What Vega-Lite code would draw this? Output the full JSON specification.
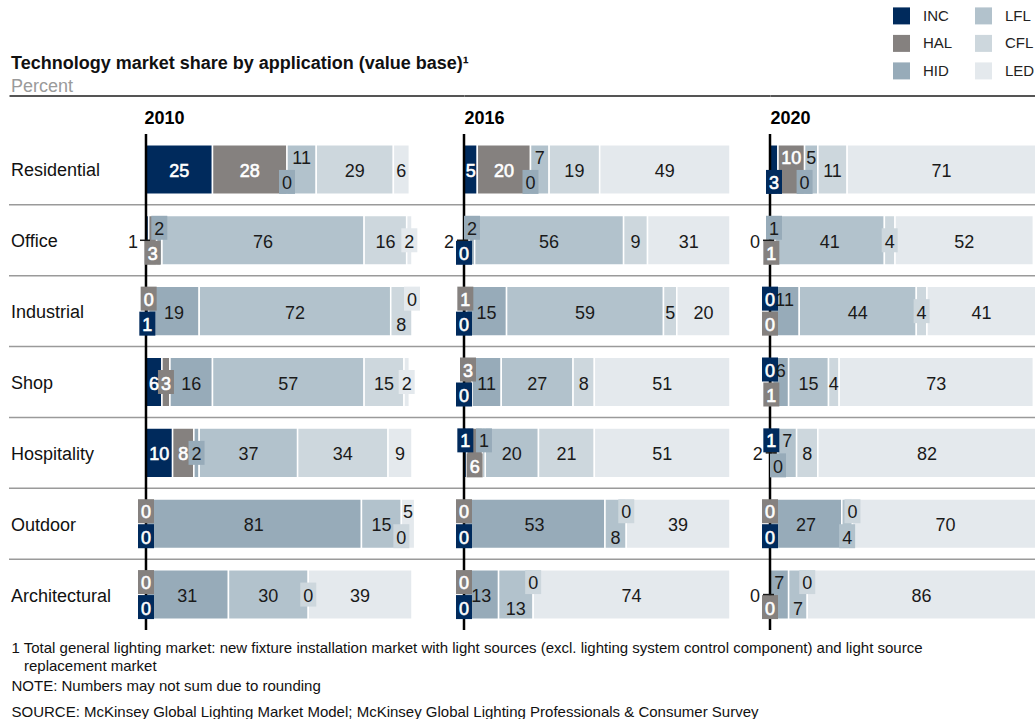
{
  "$schema": "https://vega.github.io/schema/vega-lite/v6.json",
  "padding": {"left": 8, "top": 7, "right": 0, "bottom": 0},
  "config": {"font": "Liberation Sans", "view": {"stroke": null}},
  "bounds": "flush",
  "spacing": 0,
  "params": [
    {"name": "OUT", "value": ["2010|Office|INC", "2016|Office|HAL", "2020|Office|INC", "2020|Hospitality|HAL", "2020|Architectural|INC"]},
    {"name": "UP", "value": ["2010|Residential|LFL", "2010|Office|HID", "2010|Industrial|HAL", "2010|Industrial|LED", "2010|Outdoor|HAL", "2010|Outdoor|LED", "2010|Architectural|HAL",
      "2016|Residential|LFL", "2016|Office|HID", "2016|Industrial|HAL", "2016|Shop|HAL", "2016|Hospitality|INC", "2016|Hospitality|HID", "2016|Outdoor|HAL", "2016|Outdoor|CFL", "2016|Architectural|HAL", "2016|Architectural|CFL",
      "2020|Residential|HAL", "2020|Residential|LFL", "2020|Office|HID", "2020|Industrial|INC", "2020|Industrial|HID", "2020|Shop|INC", "2020|Shop|HID", "2020|Hospitality|INC", "2020|Hospitality|LFL", "2020|Outdoor|HAL", "2020|Outdoor|CFL", "2020|Architectural|HID", "2020|Architectural|CFL"]},
    {"name": "DOWN", "value": ["2010|Residential|HID", "2010|Office|HAL", "2010|Industrial|INC", "2010|Industrial|CFL", "2010|Outdoor|INC", "2010|Outdoor|CFL", "2010|Architectural|INC",
      "2016|Residential|HID", "2016|Office|INC", "2016|Industrial|INC", "2016|Shop|INC", "2016|Hospitality|HAL", "2016|Outdoor|INC", "2016|Outdoor|LFL", "2016|Architectural|INC", "2016|Architectural|LFL",
      "2020|Residential|INC", "2020|Residential|HID", "2020|Office|HAL", "2020|Industrial|HAL", "2020|Shop|HAL", "2020|Hospitality|HID", "2020|Outdoor|INC", "2020|Outdoor|LFL", "2020|Architectural|HAL", "2020|Architectural|LFL"]},
    {"name": "BOX", "value": ["2010|Residential|HID", "2010|Office|HAL", "2010|Office|HID", "2010|Office|LED", "2010|Industrial|INC", "2010|Industrial|HAL", "2010|Industrial|LED", "2010|Shop|HAL", "2010|Shop|LED", "2010|Hospitality|HID", "2010|Outdoor|INC", "2010|Outdoor|HAL", "2010|Outdoor|CFL", "2010|Architectural|INC", "2010|Architectural|HAL", "2010|Architectural|CFL",
      "2016|Residential|HID", "2016|Office|INC", "2016|Office|HID", "2016|Industrial|HAL", "2016|Industrial|INC", "2016|Shop|HAL", "2016|Shop|INC", "2016|Hospitality|INC", "2016|Hospitality|HAL", "2016|Hospitality|HID", "2016|Outdoor|HAL", "2016|Outdoor|INC", "2016|Outdoor|CFL", "2016|Architectural|HAL", "2016|Architectural|INC", "2016|Architectural|CFL",
      "2020|Residential|INC", "2020|Residential|HID", "2020|Office|HAL", "2020|Office|HID", "2020|Office|CFL", "2020|Industrial|INC", "2020|Industrial|HAL", "2020|Industrial|CFL", "2020|Shop|INC", "2020|Shop|HAL", "2020|Hospitality|INC", "2020|Hospitality|HID", "2020|Outdoor|HAL", "2020|Outdoor|INC", "2020|Outdoor|LFL", "2020|Outdoor|CFL", "2020|Architectural|HAL", "2020|Architectural|CFL"]}
  ],
  "title": {"text": "Technology market share by application (value base)¹", "subtitle": "Percent", "anchor": "start", "frame": "group", "dx": 2, "offset": -89, "fontSize": 18, "fontWeight": "bold", "color": "#111111", "subtitleFontSize": 18, "subtitleColor": "#9a9a9a", "subtitlePadding": 5},
  "data": {"values": [
    {"year": "2010", "app": "Residential", "tech": "INC", "value": 25},
    {"year": "2010", "app": "Residential", "tech": "HAL", "value": 28},
    {"year": "2010", "app": "Residential", "tech": "HID", "value": 0},
    {"year": "2010", "app": "Residential", "tech": "LFL", "value": 11},
    {"year": "2010", "app": "Residential", "tech": "CFL", "value": 29},
    {"year": "2010", "app": "Residential", "tech": "LED", "value": 6},
    {"year": "2010", "app": "Office", "tech": "INC", "value": 1},
    {"year": "2010", "app": "Office", "tech": "HAL", "value": 3},
    {"year": "2010", "app": "Office", "tech": "HID", "value": 2},
    {"year": "2010", "app": "Office", "tech": "LFL", "value": 76},
    {"year": "2010", "app": "Office", "tech": "CFL", "value": 16},
    {"year": "2010", "app": "Office", "tech": "LED", "value": 2},
    {"year": "2010", "app": "Industrial", "tech": "INC", "value": 1},
    {"year": "2010", "app": "Industrial", "tech": "HAL", "value": 0},
    {"year": "2010", "app": "Industrial", "tech": "HID", "value": 19},
    {"year": "2010", "app": "Industrial", "tech": "LFL", "value": 72},
    {"year": "2010", "app": "Industrial", "tech": "CFL", "value": 8},
    {"year": "2010", "app": "Industrial", "tech": "LED", "value": 0},
    {"year": "2010", "app": "Shop", "tech": "INC", "value": 6},
    {"year": "2010", "app": "Shop", "tech": "HAL", "value": 3},
    {"year": "2010", "app": "Shop", "tech": "HID", "value": 16},
    {"year": "2010", "app": "Shop", "tech": "LFL", "value": 57},
    {"year": "2010", "app": "Shop", "tech": "CFL", "value": 15},
    {"year": "2010", "app": "Shop", "tech": "LED", "value": 2},
    {"year": "2010", "app": "Hospitality", "tech": "INC", "value": 10},
    {"year": "2010", "app": "Hospitality", "tech": "HAL", "value": 8},
    {"year": "2010", "app": "Hospitality", "tech": "HID", "value": 2},
    {"year": "2010", "app": "Hospitality", "tech": "LFL", "value": 37},
    {"year": "2010", "app": "Hospitality", "tech": "CFL", "value": 34},
    {"year": "2010", "app": "Hospitality", "tech": "LED", "value": 9},
    {"year": "2010", "app": "Outdoor", "tech": "INC", "value": 0},
    {"year": "2010", "app": "Outdoor", "tech": "HAL", "value": 0},
    {"year": "2010", "app": "Outdoor", "tech": "HID", "value": 81},
    {"year": "2010", "app": "Outdoor", "tech": "LFL", "value": 15},
    {"year": "2010", "app": "Outdoor", "tech": "CFL", "value": 0},
    {"year": "2010", "app": "Outdoor", "tech": "LED", "value": 5},
    {"year": "2010", "app": "Architectural", "tech": "INC", "value": 0},
    {"year": "2010", "app": "Architectural", "tech": "HAL", "value": 0},
    {"year": "2010", "app": "Architectural", "tech": "HID", "value": 31},
    {"year": "2010", "app": "Architectural", "tech": "LFL", "value": 30},
    {"year": "2010", "app": "Architectural", "tech": "CFL", "value": 0},
    {"year": "2010", "app": "Architectural", "tech": "LED", "value": 39},
    {"year": "2016", "app": "Residential", "tech": "INC", "value": 5},
    {"year": "2016", "app": "Residential", "tech": "HAL", "value": 20},
    {"year": "2016", "app": "Residential", "tech": "HID", "value": 0},
    {"year": "2016", "app": "Residential", "tech": "LFL", "value": 7},
    {"year": "2016", "app": "Residential", "tech": "CFL", "value": 19},
    {"year": "2016", "app": "Residential", "tech": "LED", "value": 49},
    {"year": "2016", "app": "Office", "tech": "INC", "value": 0},
    {"year": "2016", "app": "Office", "tech": "HAL", "value": 2},
    {"year": "2016", "app": "Office", "tech": "HID", "value": 2},
    {"year": "2016", "app": "Office", "tech": "LFL", "value": 56},
    {"year": "2016", "app": "Office", "tech": "CFL", "value": 9},
    {"year": "2016", "app": "Office", "tech": "LED", "value": 31},
    {"year": "2016", "app": "Industrial", "tech": "INC", "value": 0},
    {"year": "2016", "app": "Industrial", "tech": "HAL", "value": 1},
    {"year": "2016", "app": "Industrial", "tech": "HID", "value": 15},
    {"year": "2016", "app": "Industrial", "tech": "LFL", "value": 59},
    {"year": "2016", "app": "Industrial", "tech": "CFL", "value": 5},
    {"year": "2016", "app": "Industrial", "tech": "LED", "value": 20},
    {"year": "2016", "app": "Shop", "tech": "INC", "value": 0},
    {"year": "2016", "app": "Shop", "tech": "HAL", "value": 3},
    {"year": "2016", "app": "Shop", "tech": "HID", "value": 11},
    {"year": "2016", "app": "Shop", "tech": "LFL", "value": 27},
    {"year": "2016", "app": "Shop", "tech": "CFL", "value": 8},
    {"year": "2016", "app": "Shop", "tech": "LED", "value": 51},
    {"year": "2016", "app": "Hospitality", "tech": "INC", "value": 1},
    {"year": "2016", "app": "Hospitality", "tech": "HAL", "value": 6},
    {"year": "2016", "app": "Hospitality", "tech": "HID", "value": 1},
    {"year": "2016", "app": "Hospitality", "tech": "LFL", "value": 20},
    {"year": "2016", "app": "Hospitality", "tech": "CFL", "value": 21},
    {"year": "2016", "app": "Hospitality", "tech": "LED", "value": 51},
    {"year": "2016", "app": "Outdoor", "tech": "INC", "value": 0},
    {"year": "2016", "app": "Outdoor", "tech": "HAL", "value": 0},
    {"year": "2016", "app": "Outdoor", "tech": "HID", "value": 53},
    {"year": "2016", "app": "Outdoor", "tech": "LFL", "value": 8},
    {"year": "2016", "app": "Outdoor", "tech": "CFL", "value": 0},
    {"year": "2016", "app": "Outdoor", "tech": "LED", "value": 39},
    {"year": "2016", "app": "Architectural", "tech": "INC", "value": 0},
    {"year": "2016", "app": "Architectural", "tech": "HAL", "value": 0},
    {"year": "2016", "app": "Architectural", "tech": "HID", "value": 13},
    {"year": "2016", "app": "Architectural", "tech": "LFL", "value": 13},
    {"year": "2016", "app": "Architectural", "tech": "CFL", "value": 0},
    {"year": "2016", "app": "Architectural", "tech": "LED", "value": 74},
    {"year": "2020", "app": "Residential", "tech": "INC", "value": 3},
    {"year": "2020", "app": "Residential", "tech": "HAL", "value": 10},
    {"year": "2020", "app": "Residential", "tech": "HID", "value": 0},
    {"year": "2020", "app": "Residential", "tech": "LFL", "value": 5},
    {"year": "2020", "app": "Residential", "tech": "CFL", "value": 11},
    {"year": "2020", "app": "Residential", "tech": "LED", "value": 71},
    {"year": "2020", "app": "Office", "tech": "INC", "value": 0},
    {"year": "2020", "app": "Office", "tech": "HAL", "value": 1},
    {"year": "2020", "app": "Office", "tech": "HID", "value": 1},
    {"year": "2020", "app": "Office", "tech": "LFL", "value": 41},
    {"year": "2020", "app": "Office", "tech": "CFL", "value": 4},
    {"year": "2020", "app": "Office", "tech": "LED", "value": 52},
    {"year": "2020", "app": "Industrial", "tech": "INC", "value": 0},
    {"year": "2020", "app": "Industrial", "tech": "HAL", "value": 0},
    {"year": "2020", "app": "Industrial", "tech": "HID", "value": 11},
    {"year": "2020", "app": "Industrial", "tech": "LFL", "value": 44},
    {"year": "2020", "app": "Industrial", "tech": "CFL", "value": 4},
    {"year": "2020", "app": "Industrial", "tech": "LED", "value": 41},
    {"year": "2020", "app": "Shop", "tech": "INC", "value": 0},
    {"year": "2020", "app": "Shop", "tech": "HAL", "value": 1},
    {"year": "2020", "app": "Shop", "tech": "HID", "value": 6},
    {"year": "2020", "app": "Shop", "tech": "LFL", "value": 15},
    {"year": "2020", "app": "Shop", "tech": "CFL", "value": 4},
    {"year": "2020", "app": "Shop", "tech": "LED", "value": 73},
    {"year": "2020", "app": "Hospitality", "tech": "INC", "value": 1},
    {"year": "2020", "app": "Hospitality", "tech": "HAL", "value": 2},
    {"year": "2020", "app": "Hospitality", "tech": "HID", "value": 0},
    {"year": "2020", "app": "Hospitality", "tech": "LFL", "value": 7},
    {"year": "2020", "app": "Hospitality", "tech": "CFL", "value": 8},
    {"year": "2020", "app": "Hospitality", "tech": "LED", "value": 82},
    {"year": "2020", "app": "Outdoor", "tech": "INC", "value": 0},
    {"year": "2020", "app": "Outdoor", "tech": "HAL", "value": 0},
    {"year": "2020", "app": "Outdoor", "tech": "HID", "value": 27},
    {"year": "2020", "app": "Outdoor", "tech": "LFL", "value": 4},
    {"year": "2020", "app": "Outdoor", "tech": "CFL", "value": 0},
    {"year": "2020", "app": "Outdoor", "tech": "LED", "value": 70},
    {"year": "2020", "app": "Architectural", "tech": "INC", "value": 0},
    {"year": "2020", "app": "Architectural", "tech": "HAL", "value": 0},
    {"year": "2020", "app": "Architectural", "tech": "HID", "value": 7},
    {"year": "2020", "app": "Architectural", "tech": "LFL", "value": 7},
    {"year": "2020", "app": "Architectural", "tech": "CFL", "value": 0},
    {"year": "2020", "app": "Architectural", "tech": "LED", "value": 86}
  ]},
  "hconcat": [
    {
      "width": 455, "height": 496,
      "resolve": {"axis": {"x": "independent"}},
      "transform": [{"filter": "datum.year === '2010'"}, {"stack": "value", "groupby": ["app"], "as": ["x0", "x1"]}],
      "layer": [
        {"transform": [{"filter": "datum.tech === 'INC' && datum.app !== 'Residential'"}],
          "mark": {"type": "rule", "color": "#9a9a9a", "strokeWidth": 1.5},
          "encoding": {"y": {"field": "app", "type": "nominal", "bandPosition": 0, "scale": {"domain": ["Residential", "Office", "Industrial", "Shop", "Hospitality", "Outdoor", "Architectural"], "paddingInner": 0, "paddingOuter": 0}, "axis": null}}},
        {"transform": [{"filter": "datum.tech === 'INC'"}],
          "mark": {"type": "text", "align": "left", "baseline": "alphabetic", "dx": 2, "dy": 7, "fontSize": 18, "color": "#111111"},
          "encoding": {
            "y": {"field": "app", "type": "nominal", "scale": {"domain": ["Residential", "Office", "Industrial", "Shop", "Hospitality", "Outdoor", "Architectural"], "paddingInner": 0, "paddingOuter": 0}, "axis": null},
            "x": {"datum": -51.5, "scale": {"domain": [-51.5, 119.55], "nice": false, "zero": false}, "axis": null},
            "text": {"field": "app", "type": "nominal"}
          }},
        {"transform": [{"filter": "datum.value > 0"}],
          "mark": {"type": "bar", "height": {"band": 0.7}, "stroke": "#ffffff", "strokeWidth": 1.5, "clip": true},
          "encoding": {
            "y": {"field": "app", "type": "nominal", "scale": {"domain": ["Residential", "Office", "Industrial", "Shop", "Hospitality", "Outdoor", "Architectural"], "paddingInner": 0, "paddingOuter": 0}, "axis": null},
            "x": {"field": "x0", "type": "quantitative", "scale": {"domain": [-51.5, 119.55], "nice": false, "zero": false}, "axis": {"orient": "top", "offset": 38.6, "domain": true, "domainColor": "#555555", "domainWidth": 2, "ticks": false, "labels": false, "grid": false, "title": "2010", "titleX": 135, "titleY": 28, "titleAlign": "left", "titleBaseline": "alphabetic", "titleFontSize": 18, "titleFontWeight": "bold", "titleColor": "#000000"}},
            "x2": {"field": "x1"},
            "color": {"field": "tech", "type": "nominal", "scale": {"domain": ["INC", "HAL", "HID", "LFL", "CFL", "LED"], "range": ["#002a5c", "#85817f", "#97abb9", "#b2c2cc", "#cdd7dd", "#e4e9ed"]},
              "legend": {"orient": "none", "legendX": 884, "legendY": -126.6, "columns": 2, "direction": "vertical", "symbolType": "square", "symbolSize": 289, "symbolStrokeWidth": 0, "labelFontSize": 15, "labelColor": "#222222", "labelOffset": 13, "title": null, "rowPadding": 10.5, "columnPadding": 22, "padding": 0}}
          }},
        {"transform": [{"filter": "datum.app === 'Residential' && datum.tech === 'INC'"}],
          "mark": {"type": "rule", "color": "#000000", "strokeWidth": 2.5},
          "encoding": {"x": {"datum": 0, "scale": {"domain": [-51.5, 119.55], "nice": false, "zero": false}, "axis": {"orient": "bottom", "domain": false, "ticks": false, "labels": false, "grid": false, "title": ["1 Total general lighting market: new fixture installation market with light sources (excl. lighting system control component) and light source", "\u200b\u00a0\u00a0\u00a0replacement market"], "titleX": 2, "titleY": 22.4, "titleAlign": "left", "titleBaseline": "alphabetic", "titleFontSize": 15, "titleFontWeight": "normal", "titleColor": "#111111", "titleLineHeight": 18}}}},
        {"transform": [{"fold": ["x0", "x1"], "as": ["edge", "pos"]}, {"aggregate": [{"op": "mean", "field": "pos", "as": "mid"}, {"op": "min", "field": "pos", "as": "start"}], "groupby": ["year", "app", "tech", "value"]}],
          "encoding": {
            "y": {"field": "app", "type": "nominal", "scale": {"domain": ["Residential", "Office", "Industrial", "Shop", "Hospitality", "Outdoor", "Architectural"], "paddingInner": 0, "paddingOuter": 0}, "axis": null}
          },
          "layer": [
            {"transform": [{"filter": "indexof(BOX, datum.year+'|'+datum.app+'|'+datum.tech) >= 0 && indexof(UP, datum.year+'|'+datum.app+'|'+datum.tech) >= 0"}],
              "mark": {"type": "point", "shape": "M-0.667,-1H0.667V1H-0.667Z", "size": 576, "filled": true, "opacity": 1, "strokeWidth": 0, "yOffset": -12.5},
              "encoding": {"x": {"field": "mid", "type": "quantitative", "scale": {"domain": [-51.5, 119.55], "nice": false, "zero": false}, "axis": null}, "color": {"field": "tech", "type": "nominal", "legend": null}}},
            {"transform": [{"filter": "indexof(BOX, datum.year+'|'+datum.app+'|'+datum.tech) >= 0 && indexof(DOWN, datum.year+'|'+datum.app+'|'+datum.tech) >= 0"}],
              "mark": {"type": "point", "shape": "M-0.667,-1H0.667V1H-0.667Z", "size": 576, "filled": true, "opacity": 1, "strokeWidth": 0, "yOffset": 12.5},
              "encoding": {"x": {"field": "mid", "type": "quantitative", "scale": {"domain": [-51.5, 119.55], "nice": false, "zero": false}, "axis": null}, "color": {"field": "tech", "type": "nominal", "legend": null}}},
            {"transform": [{"filter": "indexof(BOX, datum.year+'|'+datum.app+'|'+datum.tech) >= 0 && indexof(UP, datum.year+'|'+datum.app+'|'+datum.tech) < 0 && indexof(DOWN, datum.year+'|'+datum.app+'|'+datum.tech) < 0"}],
              "mark": {"type": "point", "shape": "M-0.667,-1H0.667V1H-0.667Z", "size": 576, "filled": true, "opacity": 1, "strokeWidth": 0},
              "encoding": {"x": {"field": "mid", "type": "quantitative", "scale": {"domain": [-51.5, 119.55], "nice": false, "zero": false}, "axis": null}, "color": {"field": "tech", "type": "nominal", "legend": null}}},
            {"transform": [{"filter": "indexof(OUT, datum.year+'|'+datum.app+'|'+datum.tech) < 0 && indexof(UP, datum.year+'|'+datum.app+'|'+datum.tech) >= 0"}],
              "mark": {"type": "text", "fontSize": 18, "baseline": "alphabetic", "align": "center", "dy": -5.5, "strokeWidth": 0.6},
              "encoding": {"x": {"field": "mid", "type": "quantitative", "scale": {"domain": [-51.5, 119.55], "nice": false, "zero": false}, "axis": null}, "text": {"field": "value", "type": "quantitative", "format": "d"},
                "color": {"condition": {"test": "datum.tech === 'INC' || datum.tech === 'HAL'", "value": "#ffffff"}, "value": "#1a1a1a"},
                "stroke": {"condition": {"test": "datum.tech === 'INC' || datum.tech === 'HAL'", "value": "#ffffff"}, "value": "transparent"}}},
            {"transform": [{"filter": "indexof(OUT, datum.year+'|'+datum.app+'|'+datum.tech) < 0 && indexof(DOWN, datum.year+'|'+datum.app+'|'+datum.tech) >= 0"}],
              "mark": {"type": "text", "fontSize": 18, "baseline": "alphabetic", "align": "center", "dy": 20, "strokeWidth": 0.6},
              "encoding": {"x": {"field": "mid", "type": "quantitative", "scale": {"domain": [-51.5, 119.55], "nice": false, "zero": false}, "axis": null}, "text": {"field": "value", "type": "quantitative", "format": "d"},
                "color": {"condition": {"test": "datum.tech === 'INC' || datum.tech === 'HAL'", "value": "#ffffff"}, "value": "#1a1a1a"},
                "stroke": {"condition": {"test": "datum.tech === 'INC' || datum.tech === 'HAL'", "value": "#ffffff"}, "value": "transparent"}}},
            {"transform": [{"filter": "indexof(OUT, datum.year+'|'+datum.app+'|'+datum.tech) < 0 && indexof(UP, datum.year+'|'+datum.app+'|'+datum.tech) < 0 && indexof(DOWN, datum.year+'|'+datum.app+'|'+datum.tech) < 0"}],
              "mark": {"type": "text", "fontSize": 18, "baseline": "alphabetic", "align": "center", "dy": 7.5, "strokeWidth": 0.6},
              "encoding": {"x": {"field": "mid", "type": "quantitative", "scale": {"domain": [-51.5, 119.55], "nice": false, "zero": false}, "axis": null}, "text": {"field": "value", "type": "quantitative", "format": "d"},
                "color": {"condition": {"test": "datum.tech === 'INC' || datum.tech === 'HAL'", "value": "#ffffff"}, "value": "#1a1a1a"},
                "stroke": {"condition": {"test": "datum.tech === 'INC' || datum.tech === 'HAL'", "value": "#ffffff"}, "value": "transparent"}}},
            {"transform": [{"filter": "indexof(OUT, datum.year+'|'+datum.app+'|'+datum.tech) >= 0"}],
              "mark": {"type": "text", "fontSize": 18, "baseline": "alphabetic", "align": "right", "dx": -8, "dy": 7.5, "color": "#1a1a1a"},
              "encoding": {"x": {"field": "start", "type": "quantitative", "scale": {"domain": [-51.5, 119.55], "nice": false, "zero": false}, "axis": null}, "text": {"field": "value", "type": "quantitative", "format": "d"}}},
            {"transform": [{"filter": "indexof(OUT, datum.year+'|'+datum.app+'|'+datum.tech) >= 0"}],
              "mark": {"type": "rule", "color": "#1a1a1a", "strokeWidth": 1.5, "xOffset": -6, "x2Offset": 4},
              "encoding": {"x": {"field": "start", "type": "quantitative", "scale": {"domain": [-51.5, 119.55], "nice": false, "zero": false}, "axis": null}, "x2": {"field": "start"}}}
          ]}
      ]
    },
    {
      "width": 306, "height": 496,
      "resolve": {"axis": {"x": "independent"}},
      "transform": [{"filter": "datum.year === '2016'"}, {"stack": "value", "groupby": ["app"], "as": ["x0", "x1"]}],
      "layer": [
        {"transform": [{"filter": "datum.tech === 'INC' && datum.app !== 'Residential'"}],
          "mark": {"type": "rule", "color": "#9a9a9a", "strokeWidth": 1.5},
          "encoding": {"y": {"field": "app", "type": "nominal", "bandPosition": 0, "scale": {"domain": ["Residential", "Office", "Industrial", "Shop", "Hospitality", "Outdoor", "Architectural"], "paddingInner": 0, "paddingOuter": 0}, "axis": null}}},
        {"transform": [{"filter": "datum.value > 0"}],
          "mark": {"type": "bar", "height": {"band": 0.7}, "stroke": "#ffffff", "strokeWidth": 1.5, "clip": true},
          "encoding": {
            "y": {"field": "app", "type": "nominal", "scale": {"domain": ["Residential", "Office", "Industrial", "Shop", "Hospitality", "Outdoor", "Architectural"], "paddingInner": 0, "paddingOuter": 0}, "axis": null},
            "x": {"field": "x0", "type": "quantitative", "scale": {"domain": [0, 115.04], "nice": false, "zero": false}, "axis": {"orient": "top", "offset": 38.6, "domain": true, "domainColor": "#555555", "domainWidth": 2, "ticks": false, "labels": false, "grid": false, "title": "2016", "titleX": 0, "titleY": 28, "titleAlign": "left", "titleBaseline": "alphabetic", "titleFontSize": 18, "titleFontWeight": "bold", "titleColor": "#000000"}},
            "x2": {"field": "x1"},
            "color": {"field": "tech", "type": "nominal", "scale": {"domain": ["INC", "HAL", "HID", "LFL", "CFL", "LED"], "range": ["#002a5c", "#85817f", "#97abb9", "#b2c2cc", "#cdd7dd", "#e4e9ed"]}, "legend": null}
          }},
        {"transform": [{"filter": "datum.app === 'Residential' && datum.tech === 'INC'"}],
          "mark": {"type": "rule", "color": "#000000", "strokeWidth": 2.5},
          "encoding": {"x": {"datum": 0, "scale": {"domain": [0, 115.04], "nice": false, "zero": false}, "axis": {"orient": "bottom", "domain": false, "ticks": false, "labels": false, "grid": false, "title": "NOTE: Numbers may not sum due to rounding", "titleX": -453, "titleY": 60.4, "titleAlign": "left", "titleBaseline": "alphabetic", "titleFontSize": 15, "titleFontWeight": "normal", "titleColor": "#111111"}}}},
        {"transform": [{"fold": ["x0", "x1"], "as": ["edge", "pos"]}, {"aggregate": [{"op": "mean", "field": "pos", "as": "mid"}, {"op": "min", "field": "pos", "as": "start"}], "groupby": ["year", "app", "tech", "value"]}],
          "encoding": {
            "y": {"field": "app", "type": "nominal", "scale": {"domain": ["Residential", "Office", "Industrial", "Shop", "Hospitality", "Outdoor", "Architectural"], "paddingInner": 0, "paddingOuter": 0}, "axis": null}
          },
          "layer": [
            {"transform": [{"filter": "indexof(BOX, datum.year+'|'+datum.app+'|'+datum.tech) >= 0 && indexof(UP, datum.year+'|'+datum.app+'|'+datum.tech) >= 0"}],
              "mark": {"type": "point", "shape": "M-0.667,-1H0.667V1H-0.667Z", "size": 576, "filled": true, "opacity": 1, "strokeWidth": 0, "yOffset": -12.5},
              "encoding": {"x": {"field": "mid", "type": "quantitative", "scale": {"domain": [0, 115.04], "nice": false, "zero": false}, "axis": null}, "color": {"field": "tech", "type": "nominal", "legend": null}}},
            {"transform": [{"filter": "indexof(BOX, datum.year+'|'+datum.app+'|'+datum.tech) >= 0 && indexof(DOWN, datum.year+'|'+datum.app+'|'+datum.tech) >= 0"}],
              "mark": {"type": "point", "shape": "M-0.667,-1H0.667V1H-0.667Z", "size": 576, "filled": true, "opacity": 1, "strokeWidth": 0, "yOffset": 12.5},
              "encoding": {"x": {"field": "mid", "type": "quantitative", "scale": {"domain": [0, 115.04], "nice": false, "zero": false}, "axis": null}, "color": {"field": "tech", "type": "nominal", "legend": null}}},
            {"transform": [{"filter": "indexof(BOX, datum.year+'|'+datum.app+'|'+datum.tech) >= 0 && indexof(UP, datum.year+'|'+datum.app+'|'+datum.tech) < 0 && indexof(DOWN, datum.year+'|'+datum.app+'|'+datum.tech) < 0"}],
              "mark": {"type": "point", "shape": "M-0.667,-1H0.667V1H-0.667Z", "size": 576, "filled": true, "opacity": 1, "strokeWidth": 0},
              "encoding": {"x": {"field": "mid", "type": "quantitative", "scale": {"domain": [0, 115.04], "nice": false, "zero": false}, "axis": null}, "color": {"field": "tech", "type": "nominal", "legend": null}}},
            {"transform": [{"filter": "indexof(OUT, datum.year+'|'+datum.app+'|'+datum.tech) < 0 && indexof(UP, datum.year+'|'+datum.app+'|'+datum.tech) >= 0"}],
              "mark": {"type": "text", "fontSize": 18, "baseline": "alphabetic", "align": "center", "dy": -5.5, "strokeWidth": 0.6},
              "encoding": {"x": {"field": "mid", "type": "quantitative", "scale": {"domain": [0, 115.04], "nice": false, "zero": false}, "axis": null}, "text": {"field": "value", "type": "quantitative", "format": "d"},
                "color": {"condition": {"test": "datum.tech === 'INC' || datum.tech === 'HAL'", "value": "#ffffff"}, "value": "#1a1a1a"},
                "stroke": {"condition": {"test": "datum.tech === 'INC' || datum.tech === 'HAL'", "value": "#ffffff"}, "value": "transparent"}}},
            {"transform": [{"filter": "indexof(OUT, datum.year+'|'+datum.app+'|'+datum.tech) < 0 && indexof(DOWN, datum.year+'|'+datum.app+'|'+datum.tech) >= 0"}],
              "mark": {"type": "text", "fontSize": 18, "baseline": "alphabetic", "align": "center", "dy": 20, "strokeWidth": 0.6},
              "encoding": {"x": {"field": "mid", "type": "quantitative", "scale": {"domain": [0, 115.04], "nice": false, "zero": false}, "axis": null}, "text": {"field": "value", "type": "quantitative", "format": "d"},
                "color": {"condition": {"test": "datum.tech === 'INC' || datum.tech === 'HAL'", "value": "#ffffff"}, "value": "#1a1a1a"},
                "stroke": {"condition": {"test": "datum.tech === 'INC' || datum.tech === 'HAL'", "value": "#ffffff"}, "value": "transparent"}}},
            {"transform": [{"filter": "indexof(OUT, datum.year+'|'+datum.app+'|'+datum.tech) < 0 && indexof(UP, datum.year+'|'+datum.app+'|'+datum.tech) < 0 && indexof(DOWN, datum.year+'|'+datum.app+'|'+datum.tech) < 0"}],
              "mark": {"type": "text", "fontSize": 18, "baseline": "alphabetic", "align": "center", "dy": 7.5, "strokeWidth": 0.6},
              "encoding": {"x": {"field": "mid", "type": "quantitative", "scale": {"domain": [0, 115.04], "nice": false, "zero": false}, "axis": null}, "text": {"field": "value", "type": "quantitative", "format": "d"},
                "color": {"condition": {"test": "datum.tech === 'INC' || datum.tech === 'HAL'", "value": "#ffffff"}, "value": "#1a1a1a"},
                "stroke": {"condition": {"test": "datum.tech === 'INC' || datum.tech === 'HAL'", "value": "#ffffff"}, "value": "transparent"}}},
            {"transform": [{"filter": "indexof(OUT, datum.year+'|'+datum.app+'|'+datum.tech) >= 0"}],
              "mark": {"type": "text", "fontSize": 18, "baseline": "alphabetic", "align": "right", "dx": -10, "dy": 7.5, "color": "#1a1a1a"},
              "encoding": {"x": {"field": "start", "type": "quantitative", "scale": {"domain": [0, 115.04], "nice": false, "zero": false}, "axis": null}, "text": {"field": "value", "type": "quantitative", "format": "d"}}},
            {"transform": [{"filter": "indexof(OUT, datum.year+'|'+datum.app+'|'+datum.tech) >= 0"}],
              "mark": {"type": "rule", "color": "#1a1a1a", "strokeWidth": 1.5, "xOffset": -7, "x2Offset": 4},
              "encoding": {"x": {"field": "start", "type": "quantitative", "scale": {"domain": [0, 115.04], "nice": false, "zero": false}, "axis": null}, "x2": {"field": "start"}}}
          ]}
      ]
    },
    {
      "width": 266, "height": 496,
      "resolve": {"axis": {"x": "independent"}},
      "transform": [{"filter": "datum.year === '2020'"}, {"stack": "value", "groupby": ["app"], "as": ["x0", "x1"]}],
      "layer": [
        {"transform": [{"filter": "datum.tech === 'INC' && datum.app !== 'Residential'"}],
          "mark": {"type": "rule", "color": "#9a9a9a", "strokeWidth": 1.5},
          "encoding": {"y": {"field": "app", "type": "nominal", "bandPosition": 0, "scale": {"domain": ["Residential", "Office", "Industrial", "Shop", "Hospitality", "Outdoor", "Architectural"], "paddingInner": 0, "paddingOuter": 0}, "axis": null}}},
        {"transform": [{"filter": "datum.value > 0"}],
          "mark": {"type": "bar", "height": {"band": 0.7}, "stroke": "#ffffff", "strokeWidth": 1.5, "clip": true},
          "encoding": {
            "y": {"field": "app", "type": "nominal", "scale": {"domain": ["Residential", "Office", "Industrial", "Shop", "Hospitality", "Outdoor", "Architectural"], "paddingInner": 0, "paddingOuter": 0}, "axis": null},
            "x": {"field": "x0", "type": "quantitative", "scale": {"domain": [0, 100], "nice": false, "zero": false}, "axis": {"orient": "top", "offset": 38.6, "domain": true, "domainColor": "#555555", "domainWidth": 2, "ticks": false, "labels": false, "grid": false, "title": "2020", "titleX": 0, "titleY": 28, "titleAlign": "left", "titleBaseline": "alphabetic", "titleFontSize": 18, "titleFontWeight": "bold", "titleColor": "#000000"}},
            "x2": {"field": "x1"},
            "color": {"field": "tech", "type": "nominal", "scale": {"domain": ["INC", "HAL", "HID", "LFL", "CFL", "LED"], "range": ["#002a5c", "#85817f", "#97abb9", "#b2c2cc", "#cdd7dd", "#e4e9ed"]}, "legend": null}
          }},
        {"transform": [{"filter": "datum.app === 'Residential' && datum.tech === 'INC'"}],
          "mark": {"type": "rule", "color": "#000000", "strokeWidth": 2.5},
          "encoding": {"x": {"datum": 0, "scale": {"domain": [0, 100], "nice": false, "zero": false}, "axis": {"orient": "bottom", "domain": false, "ticks": false, "labels": false, "grid": false, "title": "SOURCE: McKinsey Global Lighting Market Model; McKinsey Global Lighting Professionals & Consumer Survey", "titleX": -759, "titleY": 86, "titleAlign": "left", "titleBaseline": "alphabetic", "titleFontSize": 15, "titleFontWeight": "normal", "titleColor": "#111111"}}}},
        {"transform": [{"fold": ["x0", "x1"], "as": ["edge", "pos"]}, {"aggregate": [{"op": "mean", "field": "pos", "as": "mid"}, {"op": "min", "field": "pos", "as": "start"}], "groupby": ["year", "app", "tech", "value"]}],
          "encoding": {
            "y": {"field": "app", "type": "nominal", "scale": {"domain": ["Residential", "Office", "Industrial", "Shop", "Hospitality", "Outdoor", "Architectural"], "paddingInner": 0, "paddingOuter": 0}, "axis": null}
          },
          "layer": [
            {"transform": [{"filter": "indexof(BOX, datum.year+'|'+datum.app+'|'+datum.tech) >= 0 && indexof(UP, datum.year+'|'+datum.app+'|'+datum.tech) >= 0"}],
              "mark": {"type": "point", "shape": "M-0.667,-1H0.667V1H-0.667Z", "size": 576, "filled": true, "opacity": 1, "strokeWidth": 0, "yOffset": -12.5},
              "encoding": {"x": {"field": "mid", "type": "quantitative", "scale": {"domain": [0, 100], "nice": false, "zero": false}, "axis": null}, "color": {"field": "tech", "type": "nominal", "legend": null}}},
            {"transform": [{"filter": "indexof(BOX, datum.year+'|'+datum.app+'|'+datum.tech) >= 0 && indexof(DOWN, datum.year+'|'+datum.app+'|'+datum.tech) >= 0"}],
              "mark": {"type": "point", "shape": "M-0.667,-1H0.667V1H-0.667Z", "size": 576, "filled": true, "opacity": 1, "strokeWidth": 0, "yOffset": 12.5},
              "encoding": {"x": {"field": "mid", "type": "quantitative", "scale": {"domain": [0, 100], "nice": false, "zero": false}, "axis": null}, "color": {"field": "tech", "type": "nominal", "legend": null}}},
            {"transform": [{"filter": "indexof(BOX, datum.year+'|'+datum.app+'|'+datum.tech) >= 0 && indexof(UP, datum.year+'|'+datum.app+'|'+datum.tech) < 0 && indexof(DOWN, datum.year+'|'+datum.app+'|'+datum.tech) < 0"}],
              "mark": {"type": "point", "shape": "M-0.667,-1H0.667V1H-0.667Z", "size": 576, "filled": true, "opacity": 1, "strokeWidth": 0},
              "encoding": {"x": {"field": "mid", "type": "quantitative", "scale": {"domain": [0, 100], "nice": false, "zero": false}, "axis": null}, "color": {"field": "tech", "type": "nominal", "legend": null}}},
            {"transform": [{"filter": "indexof(OUT, datum.year+'|'+datum.app+'|'+datum.tech) < 0 && indexof(UP, datum.year+'|'+datum.app+'|'+datum.tech) >= 0"}],
              "mark": {"type": "text", "fontSize": 18, "baseline": "alphabetic", "align": "center", "dy": -5.5, "strokeWidth": 0.6},
              "encoding": {"x": {"field": "mid", "type": "quantitative", "scale": {"domain": [0, 100], "nice": false, "zero": false}, "axis": null}, "text": {"field": "value", "type": "quantitative", "format": "d"},
                "color": {"condition": {"test": "datum.tech === 'INC' || datum.tech === 'HAL'", "value": "#ffffff"}, "value": "#1a1a1a"},
                "stroke": {"condition": {"test": "datum.tech === 'INC' || datum.tech === 'HAL'", "value": "#ffffff"}, "value": "transparent"}}},
            {"transform": [{"filter": "indexof(OUT, datum.year+'|'+datum.app+'|'+datum.tech) < 0 && indexof(DOWN, datum.year+'|'+datum.app+'|'+datum.tech) >= 0"}],
              "mark": {"type": "text", "fontSize": 18, "baseline": "alphabetic", "align": "center", "dy": 20, "strokeWidth": 0.6},
              "encoding": {"x": {"field": "mid", "type": "quantitative", "scale": {"domain": [0, 100], "nice": false, "zero": false}, "axis": null}, "text": {"field": "value", "type": "quantitative", "format": "d"},
                "color": {"condition": {"test": "datum.tech === 'INC' || datum.tech === 'HAL'", "value": "#ffffff"}, "value": "#1a1a1a"},
                "stroke": {"condition": {"test": "datum.tech === 'INC' || datum.tech === 'HAL'", "value": "#ffffff"}, "value": "transparent"}}},
            {"transform": [{"filter": "indexof(OUT, datum.year+'|'+datum.app+'|'+datum.tech) < 0 && indexof(UP, datum.year+'|'+datum.app+'|'+datum.tech) < 0 && indexof(DOWN, datum.year+'|'+datum.app+'|'+datum.tech) < 0"}],
              "mark": {"type": "text", "fontSize": 18, "baseline": "alphabetic", "align": "center", "dy": 7.5, "strokeWidth": 0.6},
              "encoding": {"x": {"field": "mid", "type": "quantitative", "scale": {"domain": [0, 100], "nice": false, "zero": false}, "axis": null}, "text": {"field": "value", "type": "quantitative", "format": "d"},
                "color": {"condition": {"test": "datum.tech === 'INC' || datum.tech === 'HAL'", "value": "#ffffff"}, "value": "#1a1a1a"},
                "stroke": {"condition": {"test": "datum.tech === 'INC' || datum.tech === 'HAL'", "value": "#ffffff"}, "value": "transparent"}}},
            {"transform": [{"filter": "indexof(OUT, datum.year+'|'+datum.app+'|'+datum.tech) >= 0"}],
              "mark": {"type": "text", "fontSize": 18, "baseline": "alphabetic", "align": "right", "dx": -10, "dy": 7.5, "color": "#1a1a1a"},
              "encoding": {"x": {"field": "start", "type": "quantitative", "scale": {"domain": [0, 100], "nice": false, "zero": false}, "axis": null}, "text": {"field": "value", "type": "quantitative", "format": "d"}}},
            {"transform": [{"filter": "indexof(OUT, datum.year+'|'+datum.app+'|'+datum.tech) >= 0"}],
              "mark": {"type": "rule", "color": "#1a1a1a", "strokeWidth": 1.5, "xOffset": -7, "x2Offset": 4},
              "encoding": {"x": {"field": "start", "type": "quantitative", "scale": {"domain": [0, 100], "nice": false, "zero": false}, "axis": null}, "x2": {"field": "start"}}}
          ]}
      ]
    }
  ]
}
